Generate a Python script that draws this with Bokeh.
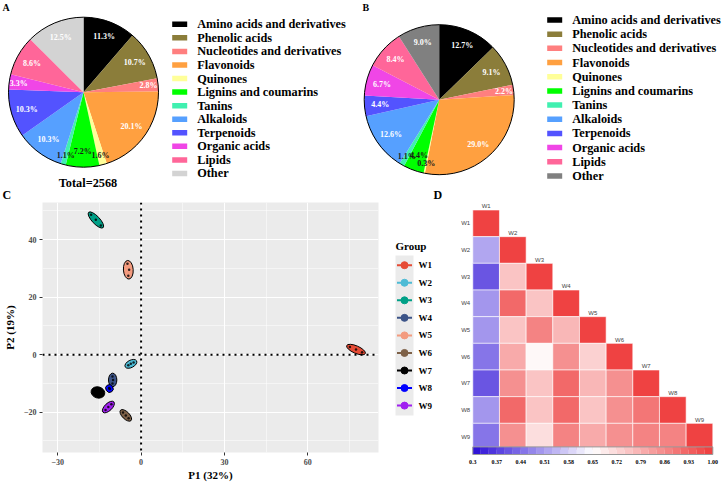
import math
import numpy as np
from bokeh.plotting import figure
from bokeh.layouts import column, row
from bokeh.models import Range1d, Span, FixedTicker, LinearColorMapper
from bokeh.transform import transform
from bokeh.embed import file_html
from bokeh.resources import INLINE
from bokeh.core.properties import value

# ---------------- metabolite class composition (% of detected compounds) ----------------
classes = ["Amino acids and derivatives", "Phenolic acids", "Nucleotides and derivatives",
           "Flavonoids", "Quinones", "Lignins and coumarins", "Tanins", "Alkaloids",
           "Terpenoids", "Organic acids", "Lipids", "Other"]
pct_a = [11.3, 10.7, 2.8, 20.1, 1.6, 7.2, 1.1, 10.3, 10.3, 3.3, 8.6, 12.5]
pct_b = [12.7, 9.1, 2.2, 29.0, 0.3, 4.4, 1.1, 12.6, 4.4, 6.7, 8.4, 9.0]
total_a = 2568

# ---------------- PCA scores, three replicates per group ----------------
groups = ["W1", "W2", "W3", "W4", "W5", "W6", "W7", "W8", "W9"]
pc1 = [[75.2, 77.4, 79.6], [-4.6, -3.7, -2.7], [-18.0, -16.3, -14.5],
       [-10.3, -10.1, -10.3], [-4.9, -4.3, -4.6], [-6.5, -5.5, -4.5],
       [-16.8, -15.4, -14.4], [-11.5, -11.4, -11.3], [-12.8, -11.8, -10.7]]
pc2 = [[2.7, 1.8, 0.8], [-3.7, -3.2, -2.7], [48.6, 46.9, 44.9],
       [-7.6, -8.8, -10.0], [31.6, 29.5, 27.4], [-20.1, -21.1, -22.1],
       [-13.0, -12.7, -13.7], [-11.6, -11.8, -11.9], [-19.2, -18.2, -17.2]]
pc1_title = "P1 (32%)"
pc2_title = "P2 (19%)"
x_ticks = [-30, 0, 30, 60]
y_ticks = [-20, 0, 20, 40]

# ---------------- correlation between groups (lower triangle) ----------------
corr_lower = [
    [1.00],
    [0.51, 1.00],
    [0.41, 0.75, 1.00],
    [0.49, 0.92, 0.75, 1.00],
    [0.49, 0.75, 0.87, 0.78, 1.00],
    [0.46, 0.80, 0.67, 0.85, 0.73, 1.00],
    [0.41, 0.85, 0.75, 0.92, 0.78, 0.85, 1.00],
    [0.49, 0.91, 0.75, 0.92, 0.75, 0.85, 0.90, 1.00],
    [0.46, 0.85, 0.71, 0.88, 0.79, 0.85, 0.88, 0.88, 1.00],
]
cbar_ticks = [0.30, 0.37, 0.44, 0.51, 0.58, 0.65, 0.72, 0.79, 0.86, 0.93, 1.00]
cbar_labels = ["0.3", "0.37", "0.44", "0.51", "0.58", "0.65", "0.72", "0.79", "0.86", "0.93", "1.00"]

# ---------------- styling ----------------
SERIF = "Liberation Serif"
colors_a = ["#000000", "#8B7D3A", "#FF7F7F", "#FFA040", "#FFFF99", "#00FF00",
            "#40F0B0", "#56A0FF", "#5353FF", "#F046E6", "#FF6699", "#D3D3D3"]
colors_b = colors_a[:-1] + ["#808080"]
dark_labels = {"Quinones", "Lignins and coumarins", "Tanins"}
label_colors = ["#1A1A1A" if c in dark_labels else "white" for c in classes]
group_colors = ["#E64B35", "#4DBBD5", "#00A087", "#3C5488", "#F39B7F",
                "#7E6148", "#000000", "#0000FF", "#A020F0"]

TOP_H = 202          # height of the pie row
BOT_H = 483 - TOP_H  # height of the PCA / heatmap row


def no_align(p):
    # keep every figure's frame where it was set, instead of lining frames up across a row
    if "frame_align" in p.properties():
        p.frame_align = False


def bare(width, height, xr, yr):
    p = figure(width=width, height=height, x_range=xr, y_range=yr,
               x_axis_location=None, y_axis_location=None,
               toolbar_location=None, output_backend="svg", min_border=0)
    p.grid.visible = False
    p.outline_line_color = None
    no_align(p)
    return p


def letter(p, x, y, txt, size, baseline="middle"):
    p.text(x=[x], y=[y], text=[txt], text_align="left", text_baseline=baseline,
           text_font=value(SERIF), text_font_style="bold", text_font_size=size,
           text_color="black")


def pie_panel(pcts, colors, tag, fig_w, cx, cy, R, leg_x, leg_top, leg_step, note=None):
    H = TOP_H
    p = bare(fig_w, H, Range1d(0, fig_w), Range1d(0, H))
    cum = np.concatenate([[0.0], np.cumsum(pcts)]) / float(sum(pcts))
    start = math.pi / 2 - 2 * math.pi * cum[:-1]
    end = math.pi / 2 - 2 * math.pi * cum[1:]
    mid = (start + end) / 2
    p.wedge(x=cx, y=H - cy, radius=R, start_angle=list(start), end_angle=list(end),
            direction="clock", fill_color=colors, line_color=None)
    p.circle(x=[cx], y=[H - cy], radius=R, fill_color=None, line_color="black", line_width=1)
    # labels of thin slices sit a little further out
    lr = np.where(np.array(pcts) < 4, 0.87 * R, 0.79 * R)
    p.text(x=list(cx + lr * np.cos(mid)), y=list(H - cy + lr * np.sin(mid)),
           text=[f"{v:.1f}%" for v in pcts], text_align="center", text_baseline="middle",
           text_font=value(SERIF), text_font_style="bold", text_font_size="8px",
           text_color=label_colors)
    ys = [H - leg_top - i * leg_step for i in range(len(classes))]
    p.rect(x=leg_x, y=ys, width=15, height=5.5, fill_color=colors, line_color=None)
    p.text(x=leg_x + 17.5, y=ys, text=classes, text_align="left", text_baseline="middle",
           text_font=value(SERIF), text_font_style="bold", text_font_size="12.3px",
           text_color="black")
    letter(p, 2, H - 7, tag, "10px")
    if note:
        p.text(x=[cx + 4.5], y=[H - 182], text=[note], text_align="center",
               text_baseline="middle", text_font=value(SERIF), text_font_style="bold",
               text_font_size="12.3px")
    return p


pa = pie_panel(pct_a, colors_a, "A", 360, 83, 91.7, 75, 179.2, 23.8, 13.56,
               note=f"Total={total_a}")
pb = pie_panel(pct_b, colors_b, "B", 362, 78.7, 99.2, 75, 194.2, 19.5, 14.18)
# panel letters of the lower row sit at the foot of the upper figures
letter(pa, 2, 0.5, "C", "12px", baseline="bottom")
letter(pb, 73, 0.5, "D", "12px", baseline="bottom")

# ---------------- C: PCA score plot ----------------
y_top = 53.9 - (TOP_H - 199) / 2.924
pc = figure(width=385, height=BOT_H, x_range=Range1d(-35.5, 85.5), y_range=Range1d(-34.0, y_top),
            toolbar_location=None, output_backend="svg",
            min_border_left=36, min_border_right=7, min_border_top=0, min_border_bottom=27)
no_align(pc)
pc.background_fill_color = "#EBEBEB"
pc.border_fill_color = "white"
pc.outline_line_color = None
pc.xaxis.ticker = FixedTicker(ticks=x_ticks, minor_ticks=[-15, 15, 45, 75])
pc.yaxis.ticker = FixedTicker(ticks=y_ticks, minor_ticks=[-30, -10, 10, 30, 50])
pc.grid.grid_line_color = "white"
pc.grid.grid_line_width = 1.1
pc.grid.minor_grid_line_color = "white"
pc.grid.minor_grid_line_width = 0.5
pc.axis.axis_line_color = None
pc.axis.major_tick_line_color = "#333333"
pc.axis.major_tick_in = 0
pc.axis.major_tick_out = 3
pc.axis.minor_tick_line_color = None
pc.axis.major_label_text_font = SERIF
pc.axis.major_label_text_font_style = "bold"
pc.axis.major_label_text_font_size = "8px"
pc.axis.major_label_text_color = "#4D4D4D"
pc.axis.major_label_standoff = 2
pc.axis.axis_label_text_font = SERIF
pc.axis.axis_label_text_font_style = "bold"
pc.axis.axis_label_text_font_size = "11px"
pc.axis.axis_label_text_color = "black"
pc.xaxis.axis_label = pc1_title
pc.yaxis.axis_label = pc2_title
pc.xaxis.axis_label_standoff = 1
pc.yaxis.axis_label_standoff = 5

pc.add_layout(Span(location=0, dimension="height", line_color="black", line_width=2, line_dash="2 4"))
pc.add_layout(Span(location=0, dimension="width", line_color="black", line_width=2, line_dash="2 4"))

# confidence-style ellipse around each group's replicates
pad = 1.25
ex, ey, ew, eh, ea = [], [], [], [], []
for xs, ys in zip(pc1, pc2):
    dx, dy = xs[-1] - xs[0], ys[-1] - ys[0]
    L = math.hypot(dx, dy)
    ux, uy = (dx / L, dy / L) if L > 0 else (1.0, 0.0)
    perp = max(abs((x - xs[0]) * uy - (y - ys[0]) * ux) for x, y in zip(xs, ys))
    ex.append(float(np.mean(xs)))
    ey.append(float(np.mean(ys)))
    ew.append(L + 2 * pad)
    eh.append(2 * perp + 2 * pad)
    ea.append(math.atan2(dy, dx))
pc.ellipse(x=ex, y=ey, width=ew, height=eh, angle=ea, fill_color=group_colors,
           line_color="black", line_width=1)
px = [v for xs in pc1 for v in xs]
py = [v for ys in pc2 for v in ys]
pc.scatter(x=px, y=py, size=2.5, fill_color="black", line_color=None, fill_alpha=0.8)

# ---------------- C legend ----------------
LEG_W = 52
pl = bare(LEG_W, BOT_H, Range1d(0, LEG_W), Range1d(0, BOT_H))
ry = [483 - 264.7 - i * 17.55 for i in range(len(groups))]
pl.quad(left=[10], right=[28], top=[ry[0] + 9.7], bottom=[ry[-1] - 9.9],
        fill_color="#EBEBEB", line_color=None)
pl.segment(x0=11.5, x1=26.5, y0=ry, y1=ry, line_color=group_colors, line_width=2)
pl.scatter(x=19, y=ry, size=7, fill_color=group_colors, line_color=group_colors)
pl.text(x=33, y=ry, text=groups, text_align="left", text_baseline="middle",
        text_font=value(SERIF), text_font_style="bold", text_font_size="9px")
pl.text(x=[10], y=[483 - 245], text=["Group"], text_align="left", text_baseline="middle",
        text_font=value(SERIF), text_font_style="bold", text_font_size="11px")

# ---------------- D: correlation heatmap ----------------
D_LEFT = 385 + LEG_W
D_W = 722 - D_LEFT
unit = 240 / 9.0
CELL_TOP = 209.5
x0 = -(472.3 - D_LEFT) / unit
y1 = (CELL_TOP - TOP_H) / unit
pd_ = bare(D_W, BOT_H, Range1d(x0, x0 + D_W / unit), Range1d(y1 - BOT_H / unit, y1))


def blend(c1, c2, t):
    return "#%02x%02x%02x" % tuple(int(round(a + (b - a) * t)) for a, b in zip(c1, c2))


low_c, mid_c, high_c = (42, 12, 214), (255, 255, 255), (238, 59, 59)
nsteps = 30
palette = []
for k in range(nsteps):
    t = (k + 0.5) / nsteps
    palette.append(blend(low_c, mid_c, t / 0.5) if t < 0.5 else blend(mid_c, high_c, (t - 0.5) / 0.5))
cmin, cmax = cbar_ticks[0], cbar_ticks[-1]
mapper = LinearColorMapper(palette=palette, low=cmin, high=cmax)

cx_, cy_, cv_ = [], [], []
for i, r_ in enumerate(corr_lower):
    for j, v in enumerate(r_):
        cx_.append(j + 0.5)
        cy_.append(-(i + 0.5))
        cv_.append(v)
pd_.rect(x="x", y="y", width=1, height=1, source=dict(x=cx_, y=cy_, v=cv_),
         fill_color=transform("v", mapper), line_color="white", line_width=0.6)

n = len(groups)
pd_.text(x=-0.1, y=[-(i + 0.5) for i in range(n)], text=groups, text_align="right",
         text_baseline="middle", text_font=value("Liberation Sans"), text_font_size="6px",
         text_color="#444444")
pd_.text(x=[j + 0.5 for j in range(n)], y=[-j + 0.02 for j in range(n)], text=groups,
         text_align="center", text_baseline="bottom", text_font=value("Liberation Sans"),
         text_font_size="6px", text_color="#444444")

# colour bar
scale = n / (cmax - cmin)
cb_y = y1 - (455.5 - 207.3) / unit
cb_h = 7.6 / unit
sw = n / nsteps
pd_.rect(x=[(k + 0.5) * sw for k in range(nsteps)], y=cb_y, width=sw, height=cb_h,
         fill_color=palette, line_color=None)
pd_.rect(x=[n / 2], y=[cb_y], width=n, height=cb_h, fill_color=None,
         line_color="#999999", line_width=1)
pd_.text(x=[(t - cmin) * scale for t in cbar_ticks], y=y1 - (466.7 - 207.3) / unit,
         text=cbar_labels, text_align="center", text_baseline="middle",
         text_font=value(SERIF), text_font_style="bold", text_font_size="6px",
         text_color="black")

layout = column(row(pa, pb), row(pc, pl, pd_))
open("out.html", "w").write(file_html(layout, INLINE))
